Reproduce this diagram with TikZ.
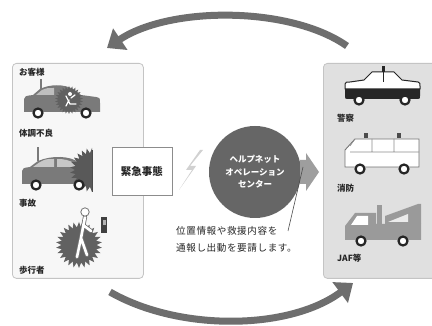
\documentclass[tikz,border=0pt]{standalone}
\usepackage{fontspec}
\setmainfont{Noto Sans CJK JP}
\newfontfamily\notefont{Noto Sans CJK JP}[LetterSpace=6]
\usetikzlibrary{shapes.geometric,arrows.meta}

\definecolor{arcgray}{HTML}{6E6E6E}
\definecolor{hubgray}{HTML}{666666}
\definecolor{cargray}{HTML}{7A7A7A}
\definecolor{towgray}{HTML}{9A9A9A}
\definecolor{panelline}{HTML}{C4C4C4}

\tikzset{
  panel/.style={draw=panelline, line width=0.8pt, rounded corners=4pt},
  lbl/.style={anchor=west, inner sep=0pt, text=black!85,
              font=\fontsize{8.5}{9}\selectfont\bfseries},
  wheel/.style={fill=white, draw=black!85, line width=2.2pt},
  burst/.style={star, star points=26, star point ratio=1.3, fill=black!60,
                inner sep=0pt},
  bigarc/.style={draw=arcgray, line width=7pt,
                 -{Triangle[length=16pt,width=25pt]}},
  figure/.style={line cap=round, line join=round},
}

\begin{document}
\begin{tikzpicture}[x=1pt,y=-1pt]
\useasboundingbox (0,0) rectangle (432,326);
\fill[white] (0,0) rectangle (432,326);

% ---------- side panels ----------
\node[panel, fill=black!3, minimum width=131pt, minimum height=215pt,
      anchor=north west] (caller) at (12,63) {};
\node[panel, fill=black!12, minimum width=118pt, minimum height=215pt,
      anchor=north west] (rescue) at (323,63) {};

% ---------- caller side ----------
\node[lbl] (okyaku) at (19,72) {お客様};

% car with a sick driver
\fill[cargray] (24,112) -- (24,99) .. controls (25,96) .. (33,95) -- (40,89)
  .. controls (50,84) and (64,84) .. (73,89) -- (81,95) -- (96,97)
  .. controls (100,98) .. (100,103) -- (100,112) -- cycle;
\fill[black!25] (36,95) -- (42,90) .. controls (47,88) .. (54,88) -- (54,95) -- cycle;
\draw[cargray, line width=1.2pt] (41,90) -- (41,79);
\node[burst, minimum size=28pt, fill=black!62] (sick) at (69,100) {};
\draw[white, line width=1.3pt, line cap=round]
  (66,96) -- (70,104) -- (76,104) (71,98) -- (75,95) (69,100) -- (66,106);
\fill[white] (70,94) circle (2pt);
\draw[wheel] (38,113) circle (4.5pt);
\draw[wheel] (86,113) circle (4.5pt);
\node[lbl] (taicho) at (19,133) {体調不良};

% car in a collision
\fill[cargray] (22,184) -- (22,171) .. controls (23,168) .. (30,167) -- (38,161)
  .. controls (52,155) and (70,156) .. (78,162) -- (84,166) -- (88,168)
  -- (88,184) -- cycle;
\fill[black!22] (33,167) -- (40,162) .. controls (46,159) .. (54,159) -- (54,167) -- cycle;
\fill[black!22] (57,159) .. controls (64,159) and (70,160) .. (75,164) -- (75,167) -- (57,167) -- cycle;
\draw[cargray, line width=1.2pt] (38,161) -- (38,147);
\begin{scope}
  \clip (70,140) rectangle (92,200);
  \node[burst, minimum size=44pt, fill=black!65] (crash) at (92,170) {};
\end{scope}
\draw[black!70, line width=1pt] (92,150) -- (92,192);
\draw[wheel] (36,185) circle (4.5pt);
\draw[wheel] (79,185) circle (4.5pt);
\node[lbl] (jiko) at (19,203) {事故};

% pedestrian
\node[burst, minimum size=46pt, fill=black!62] (fall) at (79,245) {};
\draw[figure, black!55, line width=4.2pt]
  (85,217) -- (81,238) -- (77,257) (81,238) -- (87,255) (83,225) -- (91,231);
\draw[figure, white, line width=2.6pt]
  (85,217) -- (81,238) -- (77,257) (81,238) -- (87,255) (83,225) -- (91,231);
\draw[black!55, fill=white, line width=0.8pt] (85,212) circle (4.2pt);
\fill[black!75] (101,217) rectangle (107,233);
\fill[black!30] (102.5,220) rectangle (105.5,225);
\node[lbl] (hoko) at (19,270) {歩行者};

% ---------- emergency box ----------
\node[draw=black!45, fill=white, line width=0.8pt, minimum width=60pt,
      minimum height=48pt, font=\fontsize{10.5}{11}\selectfont\bfseries,
      text=black!85] (emerg) at (142,171) {緊急事態};

% radio link
\fill[black!18] (200,150) -- (186,170) -- (192,170) -- (179,190)
  -- (196,166) -- (190,166) -- (203,150) -- cycle;

% ---------- operation centre ----------
\node[circle, fill=hubgray, minimum size=92pt, inner sep=0pt, align=center,
      text=white, font=\fontsize{8.5}{12.5}\selectfont\bfseries] (center) at (255,172)
  {ヘルプネット\\オペレーション\\センター};

\fill[black!38] (300,160) -- (306,160) -- (306,153) -- (319,172)
  -- (306,191) -- (306,184) -- (300,184) -- cycle;
\coordinate (pointer) at (303,167);

\node[anchor=north west, inner sep=0pt, align=left, text=black!85,
      font=\notefont\fontsize{9.6}{17}\selectfont] (note) at (176,226)
  {位置情報や救援内容を\\通報し出動を要請します。};
\draw[black!70, line width=0.6pt] (288,231) -- (pointer);

% ---------- rescue side ----------
% police car
\fill[black!85] (345,89) -- (420,89) -- (420,96) .. controls (420,99) .. (417,99)
  -- (348,99) .. controls (345,99) .. (345,96) -- cycle;
\draw[black!85, fill=white, line width=1pt] (345,89) -- (345,84)
  .. controls (346,82) .. (350,82) -- (364,80) -- (372,72) -- (394,72)
  -- (402,80) -- (418,82) .. controls (420,83) .. (420,86) -- (420,89) -- cycle;
\draw[black!85, line width=0.8pt] (383,72) -- (383,82);
\fill[black!85] (381.5,66) rectangle (384.5,72);
\draw[wheel] (359,100) circle (4.5pt);
\draw[wheel] (405,100) circle (4.5pt);
\node[lbl] (police) at (337,118) {警察};

% fire & ambulance van
\draw[black!55, fill=white, line width=0.9pt] (345,167) -- (345,150)
  -- (355,139) -- (419,139) -- (419,167) -- cycle;
\draw[black!45, line width=0.6pt] (350,152) -- (419,152)
  (372,139) -- (372,152) (394,139) -- (394,152)
  (355,139) -- (350,146);
\fill[black!70] (364,133) rectangle (368,138);
\fill[black!70] (397,133) rectangle (401,138);
\draw[wheel] (360,169) circle (4.5pt);
\draw[wheel] (404,169) circle (4.5pt);
\node[lbl] (fire) at (337,188) {消防};

% tow truck
\fill[towgray] (345,240) -- (345,226) -- (355,213) -- (376,213) -- (376,224)
  -- (421,224) -- (421,240) -- cycle;
\fill[white] (351,225) -- (357,216) -- (368,216) -- (368,225) -- cycle;
\fill[towgray] (377,205) rectangle (382,225);
\fill[towgray] (385,224) -- (385,216) -- (418,204) -- (421,204) -- (421,224) -- cycle;
\fill[black!8] (388,222) -- (408,214) -- (408,222) -- cycle;
\draw[wheel] (361,241) circle (4.5pt);
\draw[wheel] (403,241) circle (4.5pt);
\node[lbl] (jaf) at (337,258) {JAF等};

% ---------- flow arcs ----------
\coordinate (topstart) at (347,46);
\coordinate (topend) at (107,48);
\coordinate (botstart) at (110,292);
\coordinate (botend) at (353,283);
\draw[bigarc] (topstart) .. controls (290,6) and (170,6) .. (topend);
\draw[bigarc] (botstart) .. controls (180,332) and (290,330) .. (botend);
\end{tikzpicture}
\end{document}
